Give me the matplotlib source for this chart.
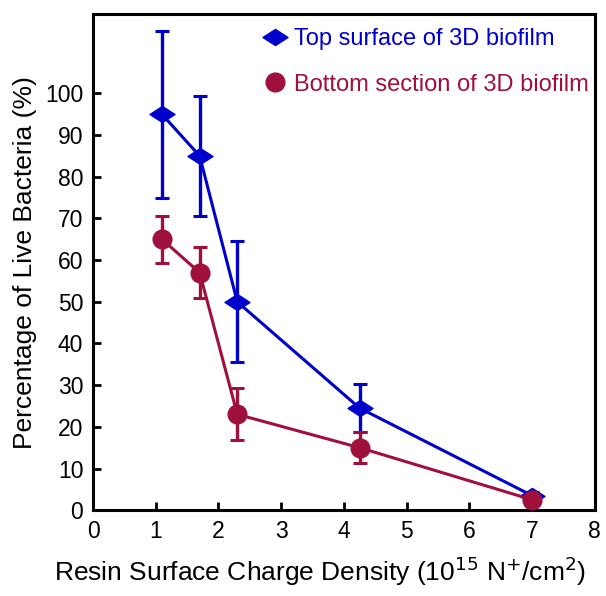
import matplotlib
matplotlib.use("Agg")
import matplotlib.pyplot as plt
from matplotlib.path import Path
from matplotlib.lines import Line2D

plt.rcParams['font.family'] = ['Liberation Sans', 'DejaVu Sans']

# charge density (10^15 N+/cm2)
charge = [1.1, 1.7, 2.3, 4.25, 7.0]

top_live = [95, 85, 50, 24.5, 3.5]
top_err = [20, 14.5, 14.5, 5.8, 0.8]

bottom_live = [65, 57, 23, 15, 2.5]
bottom_err = [5.6, 6.2, 6.2, 3.7, 0.6]

x_ticks = [0, 1, 2, 3, 4, 5, 6, 7, 8]
y_ticks = [0, 10, 20, 30, 40, 50, 60, 70, 80, 90, 100]

blue = '#0000cc'
red = '#a0103c'

# wide diamond marker
wide_diamond = Path([(0, 1), (1.55, 0), (0, -1), (-1.55, 0), (0, 1)],
                    [Path.MOVETO, Path.LINETO, Path.LINETO, Path.LINETO, Path.CLOSEPOLY])

fig = plt.figure(figsize=(6.06, 5.96), dpi=100)
ax = fig.add_axes([0.1535, 0.144, 0.828, 0.832])

ax.errorbar(charge, top_live, yerr=top_err, color=blue, lw=2.2, marker=wide_diamond,
            ms=18, elinewidth=2.4, capsize=5, capthick=2.2, zorder=3)
ax.errorbar(charge, bottom_live, yerr=bottom_err, color=red, lw=2.2, marker='o',
            ms=13.5, elinewidth=2.4, capsize=5, capthick=2.2, zorder=4)

ax.set_xlim(0, 8)
ax.set_ylim(0, 119)
ax.set_xticks(x_ticks)
ax.set_yticks(y_ticks)
ax.tick_params(direction='in', length=6, width=2, labelsize=16.5, pad=7)
for s in ax.spines.values():
    s.set_linewidth(2.2)

ax.set_xlabel('Resin Surface Charge Density (10$^{15}$ N$^{+}$/cm$^{2}$)', fontsize=19)
ax.xaxis.set_label_coords(0.452, -0.09)
ax.set_ylabel('Percentage of Live Bacteria (%)', fontsize=19, labelpad=6)

handles = [Line2D([], [], color=blue, marker=wide_diamond, ms=18, ls='none'),
           Line2D([], [], color=red, marker='o', ms=13.5, ls='none')]
ax.legend(handles, ['Top surface of 3D biofilm', 'Bottom section of 3D biofilm'],
          loc='upper left', bbox_to_anchor=(0.285, 1.015), frameon=False, fontsize=17,
          labelcolor=[blue, red], handletextpad=0.05, labelspacing=1.0, handlelength=1.5)

fig.savefig('out.png', dpi=100)
